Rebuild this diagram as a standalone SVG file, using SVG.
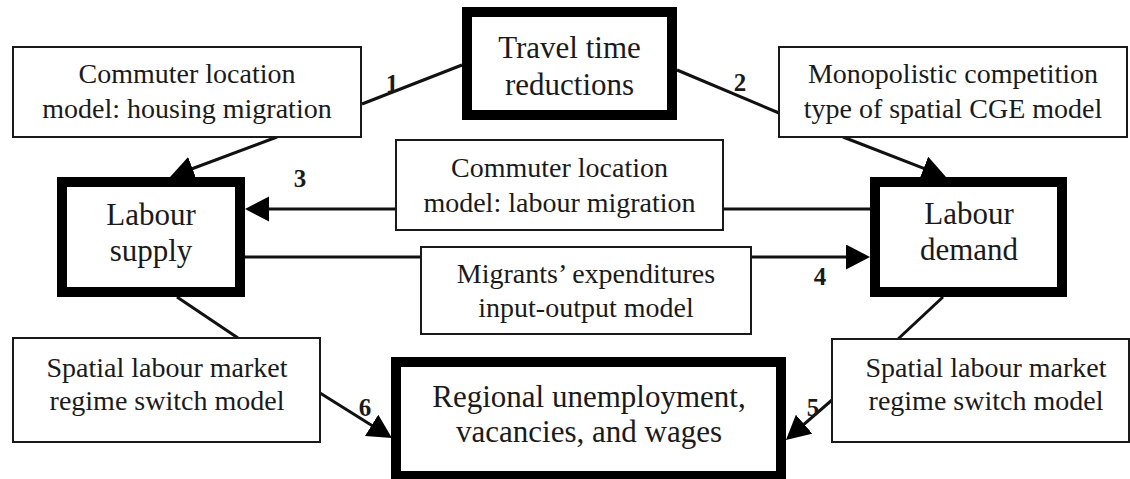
<svg xmlns="http://www.w3.org/2000/svg" width="1130" height="479" viewBox="0 0 1130 479" font-family="'Liberation Serif', 'Times New Roman', 'DejaVu Serif', serif">
  <style>
    .thin { fill: #fff; stroke: #1a1a1a; stroke-width: 2; }
    .thick { fill: #fff; stroke: #000; stroke-width: 10; }
    .link { stroke: #111; stroke-width: 3; fill: none; }
    .arrow { marker-end: url(#head); }
    .lbl { fill: #1a1a1a; text-anchor: middle; }
    .t28 { font-size: 28px; }
    .t31 { font-size: 31px; }
    .num { font-size: 25px; font-weight: bold; }
  </style>
  <defs>
    <marker id="head" markerUnits="userSpaceOnUse" markerWidth="26" markerHeight="27" refX="14" refY="12.5" orient="auto">
      <path d="M0,0 L24,12.5 L0,25 Z" fill="#000"/>
    </marker>
  </defs>
  <rect width="1130" height="479" fill="#fff"/>

  <!-- connectors and their numbers -->
  <g id="connectors">
    <line class="link" x1="362" y1="104" x2="462" y2="65"/>
    <line class="link" x1="677" y1="70" x2="779" y2="113"/>
    <line class="link arrow" x1="277" y1="137" x2="179.4" y2="173.5"/>
    <line class="link arrow" x1="843" y1="137" x2="936.7" y2="173.4"/>
    <line class="link arrow" x1="396" y1="209" x2="255" y2="209"/>
    <line class="link" x1="723" y1="209" x2="870" y2="209"/>
    <line class="link" x1="245" y1="257" x2="421" y2="257"/>
    <line class="link arrow" x1="751" y1="257" x2="860" y2="257"/>
    <line class="link" x1="177" y1="297" x2="238" y2="338"/>
    <line class="link" x1="943" y1="297" x2="898" y2="339"/>
    <line class="link arrow" x1="320" y1="393" x2="383.5" y2="432.7"/>
    <line class="link arrow" x1="832" y1="400" x2="793.5" y2="433.4"/>
    <g font-family="'Liberation Serif', 'Times New Roman', serif">
      <text class="lbl num" x="392" y="92">1</text>
      <text class="lbl num" x="740" y="91">2</text>
      <text class="lbl num" x="300" y="187">3</text>
      <text class="lbl num" x="820" y="285">4</text>
      <text class="lbl num" x="813" y="416">5</text>
      <text class="lbl num" x="365" y="416">6</text>
    </g>
  </g>

  <g id="travel-time" font-family="'Liberation Serif', serif">
    <rect class="thick" x="467" y="12" width="205" height="103"/>
    <text class="lbl t31" x="569.5" y="58">Travel time</text>
    <text class="lbl t31" x="569.5" y="95">reductions</text>
  </g>

  <g id="housing-migration" font-family="'Liberation Serif', serif">
    <rect class="thin" x="13" y="47" width="348" height="90"/>
    <text class="lbl t28" x="187" y="83">Commuter location</text>
    <text class="lbl t28" x="187" y="118">model: housing migration</text>
  </g>

  <g id="cge-model" font-family="'Liberation Serif', serif">
    <rect class="thin" x="779" y="47" width="348" height="90"/>
    <text class="lbl t28" x="953" y="83">Monopolistic competition</text>
    <text class="lbl t28" x="953" y="118">type of spatial CGE model</text>
  </g>

  <g id="labour-migration" font-family="'Liberation Serif', serif">
    <rect class="thin" x="396" y="140" width="327" height="90"/>
    <text class="lbl t28" x="559.5" y="177">Commuter location</text>
    <text class="lbl t28" x="559.5" y="212">model: labour migration</text>
  </g>

  <g id="migrant-expenditures" font-family="'Liberation Serif', serif">
    <rect class="thin" x="421" y="247" width="330" height="87"/>
    <text class="lbl t28" x="586" y="283">Migrants’ expenditures</text>
    <text class="lbl t28" x="586" y="317">input-output model</text>
  </g>

  <g id="labour-supply" font-family="'Liberation Serif', serif">
    <rect class="thick" x="62" y="182" width="178" height="110"/>
    <text class="lbl t31" x="151" y="225">Labour</text>
    <text class="lbl t31" x="151" y="261">supply</text>
  </g>

  <g id="labour-demand" font-family="'Liberation Serif', serif">
    <rect class="thick" x="875" y="182" width="187" height="110"/>
    <text class="lbl t31" x="969" y="224">Labour</text>
    <text class="lbl t31" x="969" y="260">demand</text>
  </g>

  <g id="regime-switch-left" font-family="'Liberation Serif', serif">
    <rect class="thin" x="13" y="338" width="307" height="104"/>
    <text class="lbl t28" x="167" y="377">Spatial labour market</text>
    <text class="lbl t28" x="167" y="410">regime switch model</text>
  </g>

  <g id="regime-switch-right" font-family="'Liberation Serif', serif">
    <rect class="thin" x="832" y="339" width="297" height="103"/>
    <text class="lbl t28" x="986" y="377">Spatial labour market</text>
    <text class="lbl t28" x="986" y="410">regime switch model</text>
  </g>

  <g id="regional-outcomes" font-family="'Liberation Serif', serif">
    <rect class="thick" x="396" y="362" width="385" height="114"/>
    <text class="lbl t31" x="589" y="407">Regional unemployment,</text>
    <text class="lbl t31" x="589" y="442">vacancies, and wages</text>
  </g>
</svg>
